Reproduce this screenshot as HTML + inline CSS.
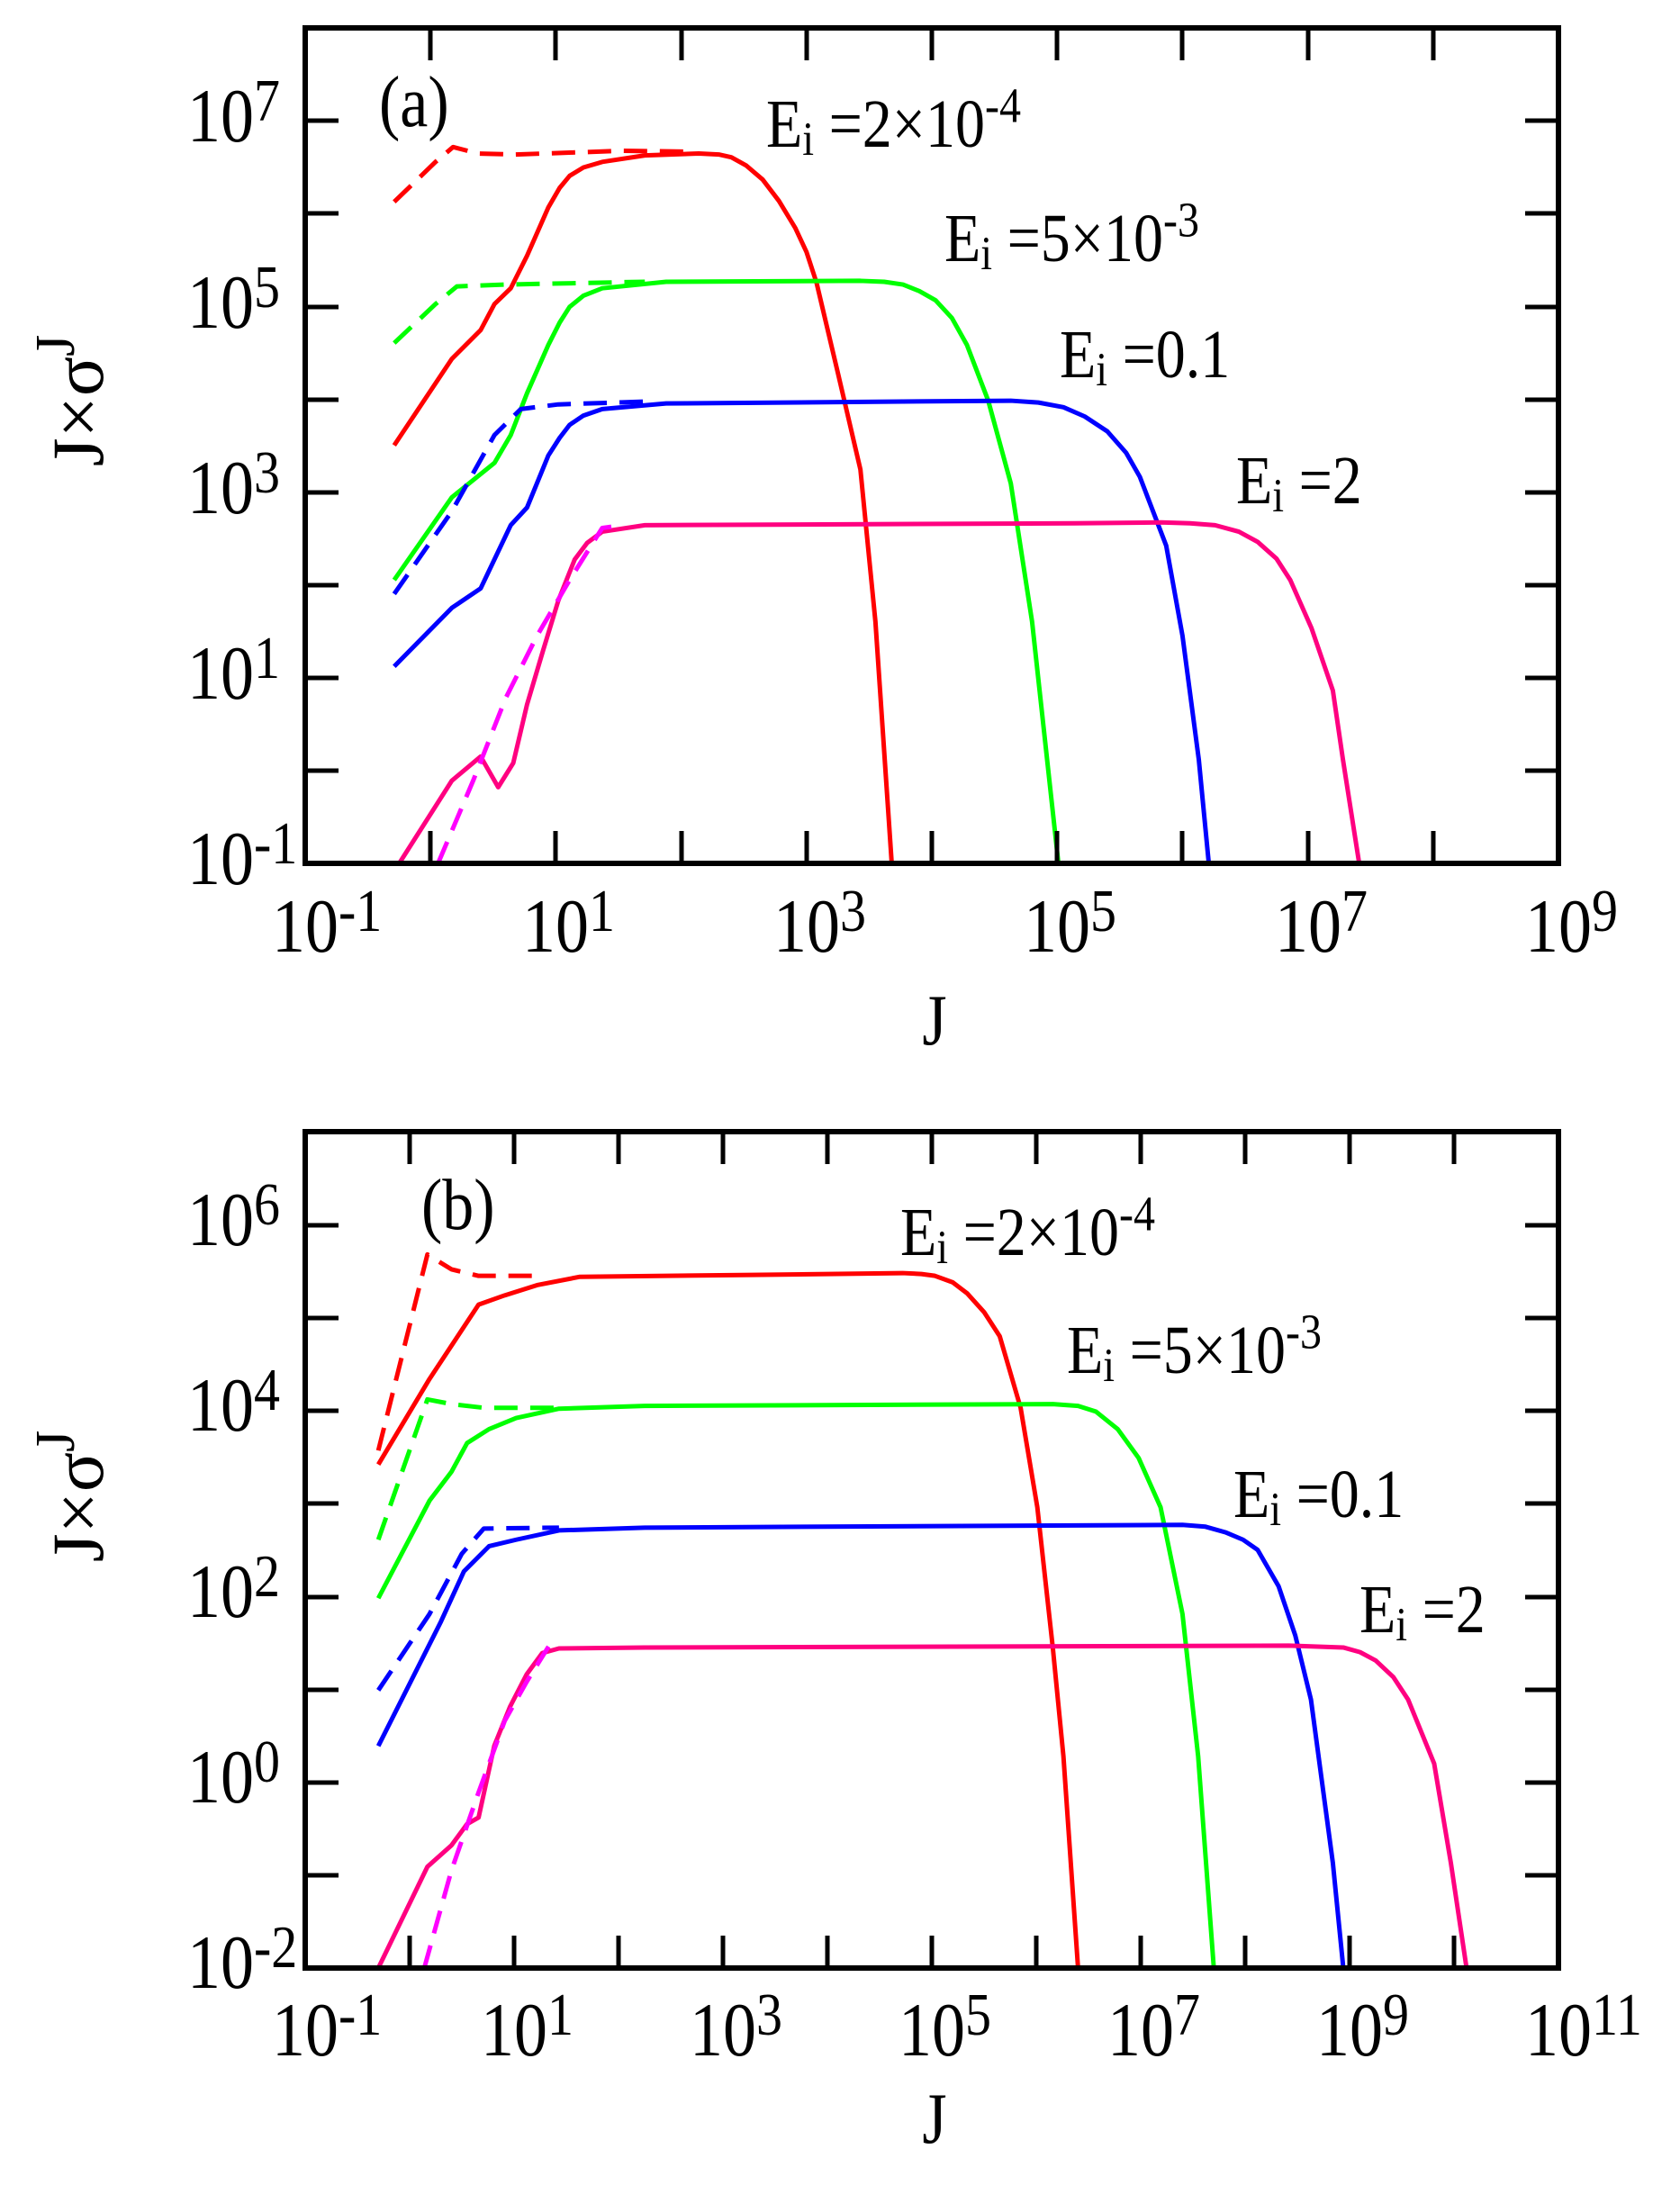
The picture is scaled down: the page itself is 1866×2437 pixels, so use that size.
<!DOCTYPE html>
<html><head><meta charset="utf-8"><style>
html,body{margin:0;padding:0;background:#fff;}
svg{display:block;font-family:"Liberation Serif","Times New Roman",serif;}
svg text{font-family:"Liberation Serif","Times New Roman",serif;fill:#000;}
</style></head><body>
<svg width="1866" height="2437" viewBox="0 0 1866 2437" xmlns="http://www.w3.org/2000/svg" font-family="Liberation Serif, serif">
<g fill="none" stroke-linejoin="round" stroke-linecap="butt">
<!-- Panel A curves -->
<g transform="translate(478.2,855.8) scale(139.2,-103.2)">
<path vector-effect="non-scaling-stroke" stroke="#ff0000" stroke-width="5" d="M-0.29,3.5 L0.17,4.43 L0.40,4.74 L0.51,5.02 L0.64,5.19 L0.77,5.54 L0.94,6.06 L1.03,6.27 L1.11,6.40 L1.22,6.49 L1.37,6.55 L1.71,6.62 L2.14,6.64 L2.30,6.63 L2.40,6.60 L2.52,6.51 L2.65,6.36 L2.78,6.13 L2.91,5.84 L3.00,5.58 L3.08,5.25 L3.25,4.28 L3.43,3.24 L3.55,1.60 L3.68,-1"/>
<path vector-effect="non-scaling-stroke" stroke="#ff0000" stroke-width="5" stroke-dasharray="26 14" d="M-0.29,6.12 L0.04,6.55 L0.18,6.71 L0.38,6.64 L0.68,6.63 L1.54,6.67 L2.05,6.66"/>
<path vector-effect="non-scaling-stroke" stroke="#00ff00" stroke-width="5" d="M-0.29,2.05 L0.17,2.94 L0.51,3.31 L0.64,3.61 L0.77,4.06 L0.94,4.58 L1.03,4.82 L1.11,4.99 L1.22,5.11 L1.37,5.19 L1.88,5.26 L3.43,5.27 L3.62,5.26 L3.77,5.23 L3.90,5.16 L4.03,5.06 L4.16,4.87 L4.28,4.58 L4.45,3.98 L4.63,3.09 L4.80,1.60 L5.01,-1"/>
<path vector-effect="non-scaling-stroke" stroke="#00ff00" stroke-width="5" stroke-dasharray="26 14" d="M-0.29,4.60 L0.04,5.02 L0.21,5.21 L0.60,5.23 L1.71,5.26"/>
<path vector-effect="non-scaling-stroke" stroke="#0000ff" stroke-width="5" d="M-0.29,1.12 L0.17,1.75 L0.40,1.96 L0.64,2.64 L0.77,2.83 L0.94,3.39 L1.03,3.58 L1.11,3.72 L1.22,3.82 L1.37,3.89 L1.88,3.95 L4.63,3.98 L4.85,3.96 L5.05,3.91 L5.22,3.81 L5.40,3.65 L5.55,3.42 L5.66,3.16 L5.87,2.42 L6.0,1.45 L6.13,0.12 L6.21,-1"/>
<path vector-effect="non-scaling-stroke" stroke="#0000ff" stroke-width="5" stroke-dasharray="26 14" d="M-0.29,1.90 L0.17,2.79 L0.51,3.61 L0.72,3.89 L1.02,3.94 L1.71,3.97"/>
<path vector-effect="non-scaling-stroke" stroke="#ff0080" stroke-width="5" d="M-0.25,-1 L0.17,-0.11 L0.40,0.15 L0.54,-0.18 L0.66,0.08 L0.77,0.71 L0.90,1.30 L1.02,1.83 L1.15,2.27 L1.25,2.45 L1.37,2.57 L1.71,2.64 L5.14,2.66 L5.83,2.67 L6.06,2.66 L6.26,2.64 L6.45,2.57 L6.60,2.46 L6.75,2.28 L6.86,2.05 L7.03,1.53 L7.2,0.86 L7.28,0.12 L7.41,-1"/>
<path vector-effect="non-scaling-stroke" stroke="#ff00ff" stroke-width="5" stroke-dasharray="26 14" d="M0.06,-1 L0.34,-0.11 L0.60,0.78 L0.85,1.45 L1.11,2.05 L1.37,2.61 L1.54,2.64"/>
</g>
<!-- Panel B curves -->
<g transform="translate(455,1979.6) scale(116,-103.2)">
<path vector-effect="non-scaling-stroke" stroke="#ff0000" stroke-width="5" d="M-0.30,3.42 L0.19,4.34 L0.66,5.14 L0.91,5.24 L1.22,5.35 L1.63,5.44 L3.28,5.46 L4.72,5.48 L4.90,5.47 L5.03,5.45 L5.20,5.38 L5.34,5.26 L5.50,5.06 L5.65,4.80 L5.85,4.03 L6.01,2.96 L6.16,1.43 L6.26,0.28 L6.40,-2"/>
<path vector-effect="non-scaling-stroke" stroke="#ff0000" stroke-width="5" stroke-dasharray="26 14" d="M-0.30,3.57 L0.17,5.68 L0.40,5.52 L0.66,5.45 L1.22,5.45"/>
<path vector-effect="non-scaling-stroke" stroke="#00ff00" stroke-width="5" d="M-0.30,1.98 L0.19,3.03 L0.40,3.34 L0.55,3.65 L0.76,3.80 L1.02,3.92 L1.43,4.02 L2.25,4.05 L6.16,4.07 L6.40,4.05 L6.57,3.99 L6.78,3.80 L6.98,3.49 L7.19,2.96 L7.40,1.81 L7.55,0.28 L7.70,-2"/>
<path vector-effect="non-scaling-stroke" stroke="#00ff00" stroke-width="5" stroke-dasharray="26 14" d="M-0.30,2.61 L0.17,4.12 L0.40,4.07 L0.71,4.03 L1.43,4.03"/>
<path vector-effect="non-scaling-stroke" stroke="#0000ff" stroke-width="5" d="M-0.30,0.39 L0.30,1.73 L0.52,2.27 L0.76,2.54 L1.02,2.61 L1.43,2.71 L2.25,2.74 L7.40,2.77 L7.62,2.75 L7.81,2.69 L7.98,2.61 L8.12,2.50 L8.32,2.11 L8.48,1.58 L8.63,0.89 L8.84,-0.87 L8.94,-2"/>
<path vector-effect="non-scaling-stroke" stroke="#0000ff" stroke-width="5" stroke-dasharray="26 14" d="M-0.30,0.99 L0.19,1.81 L0.50,2.46 L0.71,2.73 L1.43,2.74"/>
<path vector-effect="non-scaling-stroke" stroke="#ff0080" stroke-width="5" d="M-0.30,-2 L0.17,-0.91 L0.40,-0.68 L0.55,-0.45 L0.66,-0.38 L0.81,0.39 L0.96,0.81 L1.12,1.16 L1.27,1.39 L1.43,1.44 L2.25,1.45 L8.42,1.47 L8.94,1.45 L9.10,1.40 L9.25,1.31 L9.42,1.13 L9.56,0.89 L9.81,0.20 L9.97,-0.87 L10.12,-2"/>
<path vector-effect="non-scaling-stroke" stroke="#ff00ff" stroke-width="5" stroke-dasharray="26 14" d="M0.14,-2 L0.40,-0.95 L0.66,-0.11 L0.91,0.66 L1.12,1.08 L1.33,1.46"/>
</g>
</g>

<!-- Axes frames -->
<g stroke="#000" stroke-width="6" fill="none">
<rect x="339" y="31" width="1392" height="928"/>
<rect x="339" y="1257" width="1392" height="929"/>
</g>
<g stroke="#000" stroke-width="5">
<path d="M478,31v36 M617,31v36 M757,31v36 M896,31v36 M1035,31v36 M1174,31v36 M1313,31v36 M1453,31v36 M1592,31v36
M478,959v-36 M617,959v-36 M757,959v-36 M896,959v-36 M1035,959v-36 M1174,959v-36 M1313,959v-36 M1453,959v-36 M1592,959v-36
M339,134h37 M339,237h37 M339,341h37 M339,444h37 M339,547h37 M339,650h37 M339,753h37 M339,856h37
M1731,134h-37 M1731,237h-37 M1731,341h-37 M1731,444h-37 M1731,547h-37 M1731,650h-37 M1731,753h-37 M1731,856h-37"/>
<path d="M455,1257v36 M571,1257v36 M687,1257v36 M803,1257v36 M919,1257v36 M1035,1257v36 M1151,1257v36 M1267,1257v36 M1383,1257v36 M1499,1257v36 M1615,1257v36
M455,2186v-36 M571,2186v-36 M687,2186v-36 M803,2186v-36 M919,2186v-36 M1035,2186v-36 M1151,2186v-36 M1267,2186v-36 M1383,2186v-36 M1499,2186v-36 M1615,2186v-36
M339,1361h37 M339,1464h37 M339,1567h37 M339,1670h37 M339,1774h37 M339,1877h37 M339,1980h37 M339,2083h37
M1731,1361h-37 M1731,1464h-37 M1731,1567h-37 M1731,1670h-37 M1731,1774h-37 M1731,1877h-37 M1731,1980h-37 M1731,2083h-37"/>
</g>

<g font-size="74">
<text transform="translate(208,157) scale(1,1.15)">10<tspan font-size="58" dy="-20">7</tspan></text>
<text transform="translate(208,364) scale(1,1.15)">10<tspan font-size="58" dy="-20">5</tspan></text>
<text transform="translate(208,570) scale(1,1.15)">10<tspan font-size="58" dy="-20">3</tspan></text>
<text transform="translate(208,776) scale(1,1.15)">10<tspan font-size="58" dy="-20">1</tspan></text>
<text transform="translate(208,982) scale(1,1.15)">10<tspan font-size="58" dy="-20">-1</tspan></text>
<text transform="translate(302,1057) scale(1,1.15)">10<tspan font-size="58" dy="-20">-1</tspan></text>
<text transform="translate(580,1057) scale(1,1.15)">10<tspan font-size="58" dy="-20">1</tspan></text>
<text transform="translate(859,1057) scale(1,1.15)">10<tspan font-size="58" dy="-20">3</tspan></text>
<text transform="translate(1137,1057) scale(1,1.15)">10<tspan font-size="58" dy="-20">5</tspan></text>
<text transform="translate(1416,1057) scale(1,1.15)">10<tspan font-size="58" dy="-20">7</tspan></text>
<text transform="translate(1694,1057) scale(1,1.15)">10<tspan font-size="58" dy="-20">9</tspan></text>
<text transform="translate(208,1383) scale(1,1.15)">10<tspan font-size="58" dy="-20">6</tspan></text>
<text transform="translate(208,1589) scale(1,1.15)">10<tspan font-size="58" dy="-20">4</tspan></text>
<text transform="translate(208,1796) scale(1,1.15)">10<tspan font-size="58" dy="-20">2</tspan></text>
<text transform="translate(208,2002) scale(1,1.15)">10<tspan font-size="58" dy="-20">0</tspan></text>
<text transform="translate(208,2208) scale(1,1.15)">10<tspan font-size="58" dy="-20">-2</tspan></text>
<text transform="translate(302,2283) scale(1,1.15)">10<tspan font-size="58" dy="-20">-1</tspan></text>
<text transform="translate(534,2283) scale(1,1.15)">10<tspan font-size="58" dy="-20">1</tspan></text>
<text transform="translate(766,2283) scale(1,1.15)">10<tspan font-size="58" dy="-20">3</tspan></text>
<text transform="translate(998,2283) scale(1,1.15)">10<tspan font-size="58" dy="-20">5</tspan></text>
<text transform="translate(1230,2283) scale(1,1.15)">10<tspan font-size="58" dy="-20">7</tspan></text>
<text transform="translate(1462,2283) scale(1,1.15)">10<tspan font-size="58" dy="-20">9</tspan></text>
<text transform="translate(1694,2283) scale(1,1.15)">10<tspan font-size="58" dy="-20">11</tspan></text>
</g>

<g font-size="70">
<text transform="translate(1038,1160) scale(1,1.15)" text-anchor="middle">J</text>
<text transform="translate(1038,2380) scale(1,1.15)" text-anchor="middle">J</text>
</g>
<g font-size="82">
<text transform="translate(114,445) rotate(-90)" text-anchor="middle">J×σ<tspan font-size="62" dy="-32">J</tspan></text>
<text transform="translate(114,1662) rotate(-90)" text-anchor="middle">J×σ<tspan font-size="62" dy="-32">J</tspan></text>
</g>

<g font-size="70">
<text transform="translate(421,140) scale(1,1.15)">(a)</text>
<text transform="translate(468,1365) scale(1,1.15)">(b)</text>
</g>

<g font-size="66">
<text transform="translate(851,163) scale(1,1.15)">E<tspan font-size="46" dy="8">i</tspan><tspan dy="-8"> =2×10</tspan><tspan font-size="48" dy="-24">-4</tspan></text>
<text transform="translate(1049,290) scale(1,1.15)">E<tspan font-size="46" dy="8">i</tspan><tspan dy="-8"> =5×10</tspan><tspan font-size="48" dy="-24">-3</tspan></text>
<text transform="translate(1177,419) scale(1,1.15)">E<tspan font-size="46" dy="8">i</tspan><tspan dy="-8"> =0.1</tspan></text>
<text transform="translate(1373,559) scale(1,1.15)">E<tspan font-size="46" dy="8">i</tspan><tspan dy="-8"> =2</tspan></text>
<text transform="translate(1000,1394) scale(1,1.15)">E<tspan font-size="46" dy="8">i</tspan><tspan dy="-8"> =2×10</tspan><tspan font-size="48" dy="-24">-4</tspan></text>
<text transform="translate(1185,1525) scale(1,1.15)">E<tspan font-size="46" dy="8">i</tspan><tspan dy="-8"> =5×10</tspan><tspan font-size="48" dy="-24">-3</tspan></text>
<text transform="translate(1370,1685) scale(1,1.15)">E<tspan font-size="46" dy="8">i</tspan><tspan dy="-8"> =0.1</tspan></text>
<text transform="translate(1510,1813) scale(1,1.15)">E<tspan font-size="46" dy="8">i</tspan><tspan dy="-8"> =2</tspan></text>
</g>
</svg>
</body></html>
